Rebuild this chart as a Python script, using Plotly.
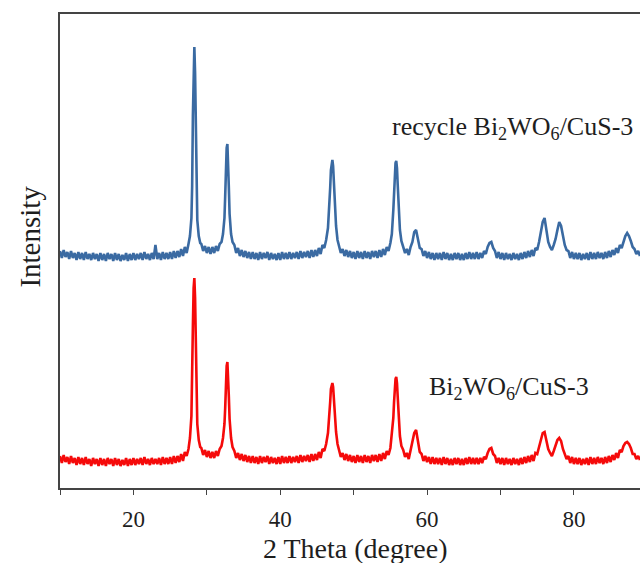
import plotly.graph_objects as go

# 2-theta scan positions (degree)
two_theta = [
    10.0, 10.25, 10.5, 10.75, 11.0, 11.25, 11.5, 11.75, 12.0, 12.25,
    12.5, 12.75, 13.0, 13.25, 13.5, 13.75, 14.0, 14.25, 14.5, 14.75,
    15.0, 15.25, 15.5, 15.75, 16.0, 16.25, 16.5, 16.75, 17.0, 17.25,
    17.5, 17.75, 18.0, 18.25, 18.5, 18.75, 19.0, 19.25, 19.5, 19.75,
    20.0, 20.25, 20.5, 20.75, 21.0, 21.25, 21.5, 21.75, 22.0, 22.25,
    22.5, 22.75, 23.0, 23.25, 23.5, 23.75, 24.0, 24.25, 24.5, 24.75,
    25.0, 25.25, 25.5, 25.75, 26.0, 26.25, 26.5, 26.75, 27.0, 27.25,
    27.5,
    27.7, 27.9, 28.0, 28.1, 28.2, 28.3, 28.4, 28.5, 28.6, 28.7, 28.9, 29.1,
    29.25, 29.5, 29.75, 30.0, 30.25, 30.5, 30.75, 31.0, 31.25, 31.5, 31.75, 32.0,
    32.2, 32.4, 32.5, 32.6, 32.7, 32.8, 32.9, 33.0, 33.1, 33.3, 33.5,
    33.75, 34.0, 34.25, 34.5, 34.75, 35.0, 35.25, 35.5, 35.75, 36.0,
    36.25, 36.5, 36.75, 37.0, 37.25, 37.5, 37.75, 38.0, 38.25, 38.5,
    38.75, 39.0, 39.25, 39.5, 39.75, 40.0, 40.25, 40.5, 40.75, 41.0,
    41.25, 41.5, 41.75, 42.0, 42.25, 42.5, 42.75, 43.0, 43.25, 43.5,
    43.75, 44.0, 44.25, 44.5, 44.75, 45.0, 45.25, 45.5, 45.75, 46.0,
    46.25,
    46.5, 46.7, 46.8, 46.9, 47.0, 47.1, 47.2, 47.3, 47.4, 47.6, 47.8,
    48.0, 48.25, 48.5, 48.75, 49.0, 49.25, 49.5, 49.75, 50.0, 50.25,
    50.5, 50.75, 51.0, 51.25, 51.5, 51.75, 52.0, 52.25, 52.5, 52.75,
    53.0, 53.25, 53.5, 53.75, 54.0, 54.25, 54.5, 54.75, 55.0,
    55.2, 55.4, 55.5, 55.6, 55.7, 55.8, 55.9, 56.0, 56.1, 56.3, 56.5,
    56.75, 57.0, 57.25, 57.5, 57.75, 58.0, 58.25, 58.5, 58.75, 59.0,
    59.25, 59.5, 59.75, 60.0, 60.25, 60.5, 60.75, 61.0, 61.25, 61.5,
    61.75, 62.0, 62.25, 62.5, 62.75, 63.0, 63.25, 63.5, 63.75, 64.0,
    64.25, 64.5, 64.75, 65.0, 65.25, 65.5, 65.75, 66.0, 66.25, 66.5,
    66.75, 67.0, 67.25, 67.5, 67.75, 68.0, 68.25, 68.5, 68.75, 69.0,
    69.25, 69.5, 69.75, 70.0, 70.25, 70.5, 70.75, 71.0, 71.25, 71.5,
    71.75, 72.0, 72.25, 72.5, 72.75, 73.0, 73.25, 73.5, 73.75, 74.0,
    74.25, 74.5, 74.75, 75.0, 75.25, 75.5, 75.75, 76.0, 76.25, 76.5,
    76.75, 77.0, 77.25, 77.5, 77.75, 78.0, 78.25, 78.5, 78.75, 79.0,
    79.25, 79.5, 79.75, 80.0, 80.25, 80.5, 80.75, 81.0, 81.25, 81.5,
    81.75, 82.0, 82.25, 82.5, 82.75, 83.0, 83.25, 83.5, 83.75, 84.0,
    84.25, 84.5, 84.75, 85.0, 85.25, 85.5, 85.75, 86.0, 86.25, 86.5,
    86.75, 87.0, 87.25, 87.5, 87.75, 88.0, 88.25, 88.5, 88.75, 89.0,
]

# recycled sample (offset trace, upper)
recycle_intensity = [
    237, 230, 238, 231, 236, 229, 237, 230, 235, 228,
    236, 229, 235, 228, 236, 229, 234, 228, 235, 229,
    234, 227, 235, 228, 234, 227, 235, 229, 234, 227,
    235, 228, 234, 227, 233, 228, 235, 227, 234, 228,
    235, 228, 234, 229, 235, 228, 236, 229, 234, 228,
    235, 229, 243, 229, 235, 228, 236, 229, 235, 229,
    236, 229, 237, 230, 237, 231, 239, 232, 241, 235,
    244,
    252, 270, 302, 372, 425, 441, 415, 348, 294, 268, 252, 245,
    244, 237, 242, 235, 241, 234, 241, 235, 242, 237, 244, 246,
    254, 270, 292, 322, 340, 344, 328, 300, 274, 254, 246,
    243, 235, 240, 232, 238, 231, 237, 230, 236, 229,
    236, 229, 235, 228, 236, 229, 235, 230, 236, 228,
    235, 229, 234, 228, 235, 228, 236, 229, 235, 229,
    236, 229, 235, 230, 236, 229, 237, 230, 236, 231,
    237, 230, 238, 231, 238, 232, 240, 234, 243, 240,
    248,
    260, 282, 300, 318, 327, 328, 322, 305, 285, 262, 248,
    242, 235, 239, 232, 238, 231, 237, 230, 236, 229,
    237, 230, 236, 229, 237, 230, 236, 229, 237, 231,
    237, 230, 238, 231, 239, 233, 241, 237, 245,
    254, 278, 298, 315, 325, 327, 320, 303, 282, 258, 247,
    241, 235, 239, 233, 241, 246, 256, 258, 249, 240,
    239, 232, 237, 230, 236, 229, 235, 228, 235, 229,
    235, 228, 236, 229, 235, 228, 234, 228, 235, 229,
    235, 228, 234, 228, 235, 229, 236, 229, 235, 229,
    236, 229, 235, 230, 237, 234, 241, 245, 246, 240,
    237, 230, 236, 229, 235, 228, 235, 229, 234, 228,
    235, 229, 234, 228, 235, 229, 236, 230, 237, 231,
    238, 232, 240, 238, 246, 256, 266, 270, 259, 246,
    241, 238, 243, 249, 258, 266, 262, 251, 243, 238,
    237, 230, 236, 229, 235, 229, 235, 228, 234, 229,
    235, 228, 236, 229, 235, 229, 236, 230, 235, 229,
    236, 230, 237, 231, 238, 233, 240, 235, 243, 240,
    247, 252, 255, 252, 247, 241, 239, 234, 237, 232,
]

# fresh sample (lower trace)
fresh_intensity = [
    32, 25, 33, 26, 31, 24, 32, 25, 30, 23,
    31, 24, 30, 23, 31, 24, 29, 22, 30, 24,
    29, 22, 30, 23, 29, 22, 30, 24, 29, 22,
    30, 23, 29, 22, 28, 23, 30, 22, 29, 23,
    30, 23, 29, 24, 30, 23, 31, 24, 29, 23,
    30, 24, 29, 24, 30, 23, 31, 24, 30, 24,
    31, 24, 32, 25, 32, 26, 34, 27, 36, 32,
    39,
    50, 72, 102, 162, 200, 210, 190, 138, 88, 64, 48, 41,
    40, 33, 38, 31, 37, 30, 36, 30, 37, 32, 39, 42,
    50, 64, 80, 107, 122, 126, 114, 91, 69, 50, 41,
    37, 30, 35, 28, 34, 27, 33, 26, 32, 25,
    32, 25, 31, 24, 32, 25, 31, 26, 32, 24,
    31, 25, 30, 24, 31, 24, 32, 25, 31, 25,
    32, 25, 31, 26, 32, 25, 33, 26, 32, 27,
    33, 26, 34, 27, 34, 28, 36, 30, 39, 37,
    44,
    55, 72, 86, 99, 104, 105, 101, 90, 76, 56, 44,
    38, 31, 35, 28, 34, 27, 33, 26, 32, 25,
    33, 26, 32, 25, 33, 26, 32, 25, 33, 27,
    33, 26, 34, 27, 35, 29, 37, 33, 40,
    52, 70, 86, 101, 109, 111, 105, 91, 72, 52, 42,
    38, 31, 35, 29, 37, 45, 55, 58, 47, 36,
    34, 27, 32, 26, 31, 24, 31, 24, 30, 24,
    30, 23, 31, 24, 30, 23, 29, 23, 30, 24,
    30, 23, 29, 23, 30, 24, 31, 24, 30, 24,
    30, 24, 30, 25, 31, 29, 35, 39, 40, 34,
    32, 25, 30, 24, 30, 23, 30, 24, 29, 23,
    30, 24, 29, 23, 30, 24, 31, 25, 32, 26,
    33, 27, 35, 34, 41, 48, 55, 56, 48, 39,
    35, 32, 37, 42, 48, 50, 47, 39, 34, 29,
    32, 25, 31, 24, 30, 24, 30, 23, 29, 24,
    30, 23, 31, 24, 30, 24, 31, 25, 30, 24,
    31, 25, 32, 26, 33, 28, 35, 30, 38, 36,
    42, 45, 46, 44, 40, 34, 34, 29, 32, 28,
]

x_tick_vals = [10, 20, 30, 40, 50, 60, 70, 80, 90]
x_tick_text = ["", "20", "", "40", "", "60", "", "80", ""]

label_recycle = "recycle Bi<sub>2</sub>WO<sub>6</sub>/CuS-3"
label_fresh = "Bi<sub>2</sub>WO<sub>6</sub>/CuS-3"

SERIF = "Liberation Serif, Times New Roman, serif"
TEXT = "#1e1e1e"

fig = go.Figure()
fig.add_trace(go.Scatter(x=two_theta, y=recycle_intensity, mode="lines",
                         line=dict(color="#3a6aa2", width=2.6), showlegend=False))
fig.add_trace(go.Scatter(x=two_theta, y=fresh_intensity, mode="lines",
                         line=dict(color="#f50a0a", width=2.6), showlegend=False))

fig.update_layout(
    width=640, height=563, autosize=False,
    margin=dict(l=60, r=0, t=14, b=75),
    plot_bgcolor="white", paper_bgcolor="white",
    font=dict(family=SERIF, color=TEXT),
    xaxis=dict(range=[10, 89.0], tickmode="array", tickvals=x_tick_vals,
               ticktext=x_tick_text, ticks="outside", ticklen=5, tickwidth=1.3,
               tickcolor="#444444", showline=True, linecolor="#444444",
               linewidth=1.5, mirror=True, showgrid=False, zeroline=False,
               tickfont=dict(size=23, family=SERIF, color=TEXT),
               ticklabelstandoff=5),
    yaxis=dict(range=[0, 474], showticklabels=False, ticks="",
               showline=True, linecolor="#444444", linewidth=1.5,
               showgrid=False, zeroline=False),
    annotations=[
        dict(x=71.6, y=360, xref="x", yref="y", text=label_recycle,
             showarrow=False, font=dict(size=26, family=SERIF, color=TEXT),
             xanchor="center", yanchor="middle"),
        dict(x=71.2, y=100, xref="x", yref="y", text=label_fresh,
             showarrow=False, font=dict(size=26, family=SERIF, color=TEXT),
             xanchor="center", yanchor="middle"),
        dict(x=-0.052, y=0.53, xref="paper", yref="paper", text="Intensity",
             showarrow=False, textangle=-90,
             font=dict(size=29, family=SERIF, color=TEXT),
             xanchor="center", yanchor="middle"),
        dict(x=0.51, y=-0.127, xref="paper", yref="paper", text="2 Theta (degree)",
             showarrow=False, font=dict(size=28, family=SERIF, color=TEXT),
             xanchor="center", yanchor="middle"),
    ],
)

fig.write_html("out.html")
